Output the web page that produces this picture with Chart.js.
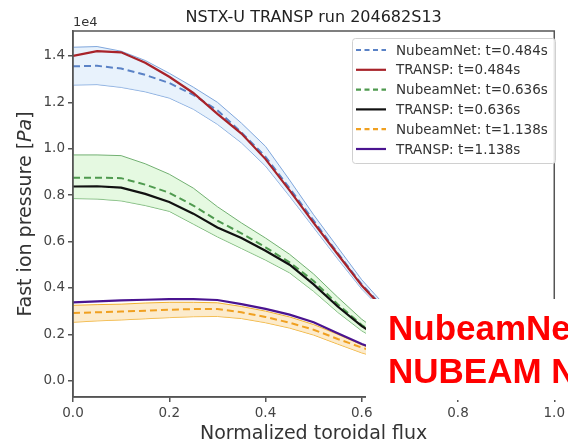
<!DOCTYPE html>
<html>
<head>
<meta charset="utf-8">
<script src="https://cdn.jsdelivr.net/npm/chart.js@4.4.1/dist/chart.umd.min.js"></script>
<style>
  html, body { margin: 0; padding: 0; background: #fff; }
  #wrap { width: 568px; height: 443px; }
</style>
</head>
<body>
<div id="wrap"><canvas id="grafico" width="568" height="443"></canvas></div>
<script>
// dados (pressao em unidades de 1e4 Pa)
const fluxo = [0, 0.05, 0.1, 0.15, 0.2, 0.25, 0.3, 0.35, 0.4, 0.45, 0.5, 0.55, 0.6, 0.65, 0.7, 0.75, 0.8, 0.85, 0.9, 0.95, 1.0];

// t=0.484s
const net484Sup = [1.437, 1.44, 1.42, 1.38, 1.325, 1.265, 1.20, 1.11, 1.01, 0.865, 0.715, 0.575, 0.435, 0.32, 0.225, 0.15, 0.095, 0.06, 0.035, 0.018, 0.008];
const net484 = [1.355, 1.357, 1.345, 1.318, 1.283, 1.232, 1.165, 1.07, 0.965, 0.83, 0.69, 0.55, 0.415, 0.305, 0.212, 0.14, 0.09, 0.055, 0.032, 0.016, 0.007];
const net484Inf = [1.274, 1.276, 1.264, 1.245, 1.218, 1.17, 1.105, 1.025, 0.925, 0.795, 0.66, 0.525, 0.395, 0.29, 0.2, 0.132, 0.084, 0.05, 0.029, 0.014, 0.006];
const transp484 = [1.40, 1.42, 1.415, 1.37, 1.31, 1.24, 1.15, 1.065, 0.955, 0.82, 0.68, 0.545, 0.41, 0.30, 0.21, 0.14, 0.09, 0.055, 0.03, 0.015, 0.006];

// t=0.636s
const net636Sup = [0.973, 0.973, 0.97, 0.935, 0.89, 0.83, 0.75, 0.68, 0.615, 0.545, 0.46, 0.36, 0.265, 0.19, 0.13, 0.085, 0.055, 0.033, 0.019, 0.01, 0.004];
const net636 = [0.875, 0.875, 0.873, 0.845, 0.81, 0.755, 0.69, 0.635, 0.575, 0.51, 0.43, 0.33, 0.24, 0.172, 0.12, 0.078, 0.05, 0.03, 0.017, 0.009, 0.004];
const net636Inf = [0.785, 0.783, 0.775, 0.755, 0.73, 0.675, 0.62, 0.57, 0.52, 0.465, 0.385, 0.295, 0.215, 0.155, 0.107, 0.07, 0.044, 0.027, 0.015, 0.008, 0.003];
const transp636 = [0.837, 0.838, 0.832, 0.805, 0.77, 0.72, 0.66, 0.615, 0.56, 0.50, 0.415, 0.32, 0.235, 0.17, 0.118, 0.078, 0.05, 0.03, 0.017, 0.009, 0.004];

// t=1.138s
const net1138Sup = [0.325, 0.328, 0.33, 0.335, 0.338, 0.338, 0.336, 0.32, 0.30, 0.275, 0.242, 0.20, 0.155, 0.118, 0.088, 0.063, 0.044, 0.029, 0.017, 0.009, 0.004];
const net1138 = [0.292, 0.295, 0.298, 0.302, 0.306, 0.309, 0.309, 0.295, 0.275, 0.25, 0.22, 0.18, 0.143, 0.108, 0.08, 0.057, 0.04, 0.026, 0.015, 0.008, 0.003];
const net1138Inf = [0.252, 0.258, 0.262, 0.267, 0.272, 0.276, 0.277, 0.268, 0.25, 0.227, 0.197, 0.158, 0.12, 0.09, 0.066, 0.047, 0.033, 0.021, 0.012, 0.006, 0.002];
const transp1138 = [0.338, 0.342, 0.346, 0.349, 0.352, 0.352, 0.348, 0.33, 0.31, 0.285, 0.252, 0.205, 0.158, 0.12, 0.09, 0.065, 0.045, 0.03, 0.018, 0.01, 0.005];

const ticksX = [0.0, 0.2, 0.4, 0.6, 0.8, 1.0];
const ticksY = [0.0, 0.2, 0.4, 0.6, 0.8, 1.0, 1.2, 1.4];

const nomes = ['NubeamNet: t=0.484s', 'TRANSP: t=0.484s', 'NubeamNet: t=0.636s', 'TRANSP: t=0.636s', 'NubeamNet: t=1.138s', 'TRANSP: t=1.138s'];

const FONTE = "'DejaVu Sans', sans-serif";

function pontos(arr) {
  return fluxo.map((x, i) => ({ x: x, y: arr[i] }));
}

// faixa de incerteza (superior preenchida ate a inferior)
function faixa(sup, inf, borda, fundo) {
  return [
    { data: pontos(sup), borderColor: borda, borderWidth: 1, backgroundColor: fundo, fill: '+1', pointRadius: 0, tension: 0, order: 3 },
    { data: pontos(inf), borderColor: borda, borderWidth: 1, fill: false, pointRadius: 0, tension: 0, order: 3 }
  ];
}

function linha(arr, cor, tracejada, nome) {
  return {
    label: nome, data: pontos(arr), borderColor: cor, borderWidth: tracejada ? 2 : 2.2,
    borderDash: tracejada ? [7, 4] : [], fill: false, pointRadius: 0, tension: 0,
    order: tracejada ? 2 : 1, legenda: true
  };
}

const datasets = [
  ...faixa(net484Sup, net484Inf, '#7fa6dc', 'rgba(214,232,250,0.55)'),
  ...faixa(net636Sup, net636Inf, '#72b072', 'rgba(208,244,200,0.55)'),
  ...faixa(net1138Sup, net1138Inf, '#f0b030', 'rgba(250,222,170,0.6)'),
  linha(net484, '#5a82c6', true, nomes[0]),
  linha(transp484, '#a8232a', false, nomes[1]),
  linha(net636, '#4f9a4f', true, nomes[2]),
  linha(transp636, '#111111', false, nomes[3]),
  linha(net1138, '#f0a020', true, nomes[4]),
  linha(transp1138, '#4a1490', false, nomes[5])
];

// textos, moldura, legenda e a caixa branca por cima
const extras = {
  id: 'extras',
  afterDatasetsDraw(chart) {
    const ctx = chart.ctx;
    const a = chart.chartArea;
    ctx.save();
    // moldura (topo e direita)
    ctx.strokeStyle = '#555';
    ctx.lineWidth = 1.5;
    ctx.strokeRect(a.left, a.top, a.right - a.left, a.bottom - a.top);
    ctx.restore();
  },
  afterDraw(chart) {
    const ctx = chart.ctx;
    const a = chart.chartArea;
    const cx = (a.left + a.right) / 2;
    ctx.save();

    // titulo
    ctx.fillStyle = '#222';
    ctx.font = '16px ' + FONTE;
    ctx.textAlign = 'center';
    ctx.textBaseline = 'middle';
    ctx.fillText('NSTX-U TRANSP run 204682S13', cx, 18);

    // offset 1e4
    ctx.font = '13px ' + FONTE;
    ctx.fillStyle = '#333';
    ctx.textAlign = 'left';
    ctx.fillText('1e4', a.left, 23);

    // rotulo eixo x
    ctx.font = '19px ' + FONTE;
    ctx.fillStyle = '#333';
    ctx.textAlign = 'center';
    ctx.fillText('Normalized toroidal flux', cx, 434);

    // rotulo eixo y (Pa em italico)
    ctx.translate(26, (a.top + a.bottom) / 2);
    ctx.rotate(-Math.PI / 2);
    const p1 = 'Fast ion pressure [';
    const p2 = 'Pa';
    const p3 = ']';
    ctx.font = '19px ' + FONTE;
    const w1 = ctx.measureText(p1).width;
    const w3 = ctx.measureText(p3).width;
    ctx.font = 'italic 19px ' + FONTE;
    const w2 = ctx.measureText(p2).width;
    let x0 = -(w1 + w2 + w3) / 2;
    ctx.textAlign = 'left';
    ctx.font = '19px ' + FONTE;
    ctx.fillText(p1, x0, 0);
    ctx.font = 'italic 19px ' + FONTE;
    ctx.fillText(p2, x0 + w1, 0);
    ctx.font = '19px ' + FONTE;
    ctx.fillText(p3, x0 + w1 + w2, 0);
    ctx.setTransform(1, 0, 0, 1, 0, 0);

    // legenda
    const lx = 352, ly = 38, lw = 203, lh = 125;
    ctx.fillStyle = 'rgba(255,255,255,0.85)';
    ctx.strokeStyle = '#d0d0d0';
    ctx.lineWidth = 1;
    ctx.beginPath();
    ctx.roundRect(lx + 0.5, ly + 0.5, lw, lh, 3);
    ctx.fill();
    ctx.stroke();
    const itens = chart.data.datasets.filter(d => d.legenda);
    ctx.font = '13.5px ' + FONTE;
    ctx.textBaseline = 'middle';
    itens.forEach((d, i) => {
      const y = 50 + i * 19.8;
      ctx.strokeStyle = d.borderColor;
      ctx.lineWidth = 2.2;
      ctx.setLineDash(d.borderDash.length ? [5, 3.5] : []);
      ctx.beginPath();
      ctx.moveTo(356, y);
      ctx.lineTo(386, y);
      ctx.stroke();
      ctx.setLineDash([]);
      ctx.fillStyle = '#333';
      ctx.fillText(d.label, 396, y + 1);
    });

    // caixa branca sobreposta com texto vermelho
    ctx.fillStyle = '#ffffff';
    ctx.fillRect(366, 299, 568 - 366, 101);
    ctx.fillStyle = '#ff0000';
    ctx.font = "bold 35px 'Liberation Sans', Arial, sans-serif";
    ctx.textAlign = 'left';
    ctx.textBaseline = 'alphabetic';
    ctx.fillText('NubeamNet', 388, 340);
    ctx.fillText('NUBEAM NN', 388, 383);

    ctx.restore();
  }
};

const config = {
  type: 'line',
  data: { datasets: datasets },
  options: {
    responsive: false,
    animation: false,
    events: [],
    layout: { padding: { top: 31, right: 9, left: 0, bottom: 0 } },
    plugins: {
      legend: { display: false },
      tooltip: { enabled: false },
      filler: { propagate: false }
    },
    scales: {
      x: {
        type: 'linear',
        min: 0,
        max: 1.0,
        afterFit(scale) { scale.height = 46; },
        afterBuildTicks(scale) { scale.ticks = ticksX.map(v => ({ value: v })); },
        grid: { drawOnChartArea: false, drawTicks: true, tickLength: 5, color: '#555', lineWidth: 1.5 },
        border: { display: true, color: '#555', width: 1.5 },
        ticks: {
          padding: 3,
          maxRotation: 0,
          color: '#444',
          font: { family: FONTE, size: 13.5 },
          callback: v => v.toFixed(1)
        }
      },
      y: {
        type: 'linear',
        min: -0.07,
        max: 1.507,
        afterFit(scale) { scale.width = 73; },
        afterBuildTicks(scale) { scale.ticks = ticksY.map(v => ({ value: v })); },
        grid: { drawOnChartArea: false, drawTicks: true, tickLength: 5, color: '#555', lineWidth: 1.5 },
        border: { display: true, color: '#555', width: 1.5 },
        ticks: {
          padding: 3,
          color: '#444',
          font: { family: FONTE, size: 13.5 },
          callback: v => v.toFixed(1)
        }
      }
    }
  },
  plugins: [extras]
};

const contexto = document.getElementById('grafico').getContext('2d');
const grafico = new Chart(contexto, config);
</script>
</body>
</html>
